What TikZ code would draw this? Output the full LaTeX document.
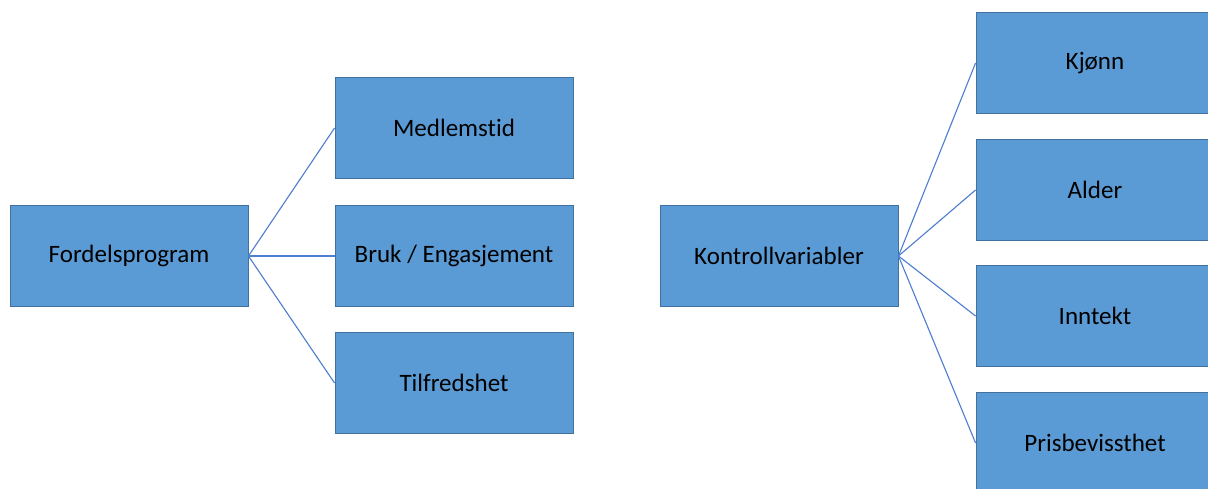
\documentclass[tikz,border=0pt]{standalone}
\usepackage{fontspec}
\setmainfont[Ligatures=NoCommon]{Carlito}
\definecolor{boxfill}{HTML}{5B9BD5}
\definecolor{boxline}{HTML}{41719C}
\definecolor{linkline}{HTML}{4F7FD0}
\begin{document}
\begin{tikzpicture}[x=0.025cm,y=-0.025cm,
    box/.style={draw=boxline,fill=boxfill,line width=0.6pt,minimum width=5.95cm,minimum height=2.525cm,inner sep=0pt,font=\fontsize{17.8}{21}\selectfont},
    lnk/.style={draw=linkline,line width=0.8pt}]
            \useasboundingbox (0,0) rectangle (1208,488);
            \clip (0,0) rectangle (1208,488);
            \node[box] (forde) at (129,256) {Fordelsprogram};
            \node[box] (medl) at (454,128) {Medlemstid};
            \node[box] (bruk) at (454,256) {Bruk / Engasjement};
            \node[box] (tilf) at (454,383) {Tilfredshet};
            \node[box] (kontr) at (779,256) {Kontrollvariabler};
            \node[box] (kjonn) at (1095,63) {Kjønn};
            \node[box] (alder) at (1095,190) {Alder};
            \node[box] (innt) at (1095,316) {Inntekt};
            \node[box] (pris) at (1095,443) {Prisbevissthet};
            \foreach \t in {medl,bruk,tilf}
                \draw[lnk] (forde.east)--(\t.west);
            \foreach \t in {kjonn,alder,innt,pris}
                \draw[lnk] (kontr.east)--(\t.west);
        \end{tikzpicture}
\end{document}
